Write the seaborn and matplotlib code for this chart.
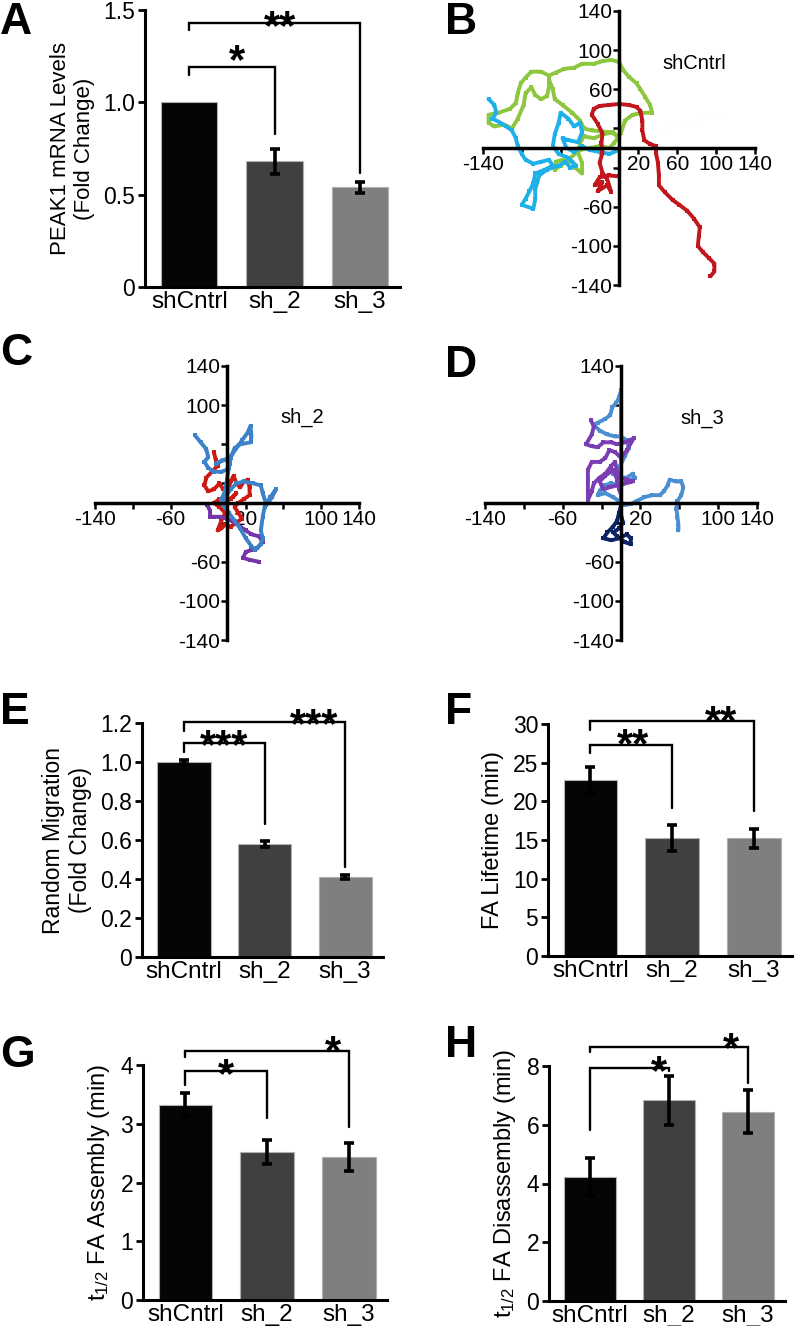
import matplotlib
matplotlib.use("Agg")
import matplotlib.pyplot as plt
import seaborn as sns

sns.set_theme(style="ticks")
plt.rcParams["font.family"] = ["Liberation Sans", "DejaVu Sans"]
plt.rcParams["mathtext.fontset"] = "custom"
plt.rcParams["mathtext.rm"] = "Liberation Sans"
plt.rcParams["mathtext.it"] = "Liberation Sans:italic"
for key in ["text.color", "axes.labelcolor", "xtick.color", "ytick.color", "axes.edgecolor"]:
    plt.rcParams[key] = "black"

W, H = 798, 1326

# ---- bar chart data ----
groups = ["shCntrl", "sh_2", "sh_3"]
bar_colors = ["#050505", "#404040", "#7f7f7f"]

mrna = [1.0, 0.68, 0.54]
mrna_err = [0.0, 0.07, 0.03]

migration = [1.0, 0.58, 0.41]
migration_err = [0.012, 0.015, 0.01]

lifetime = [22.7, 15.3, 15.2]
lifetime_err = [1.8, 1.7, 1.2]

assembly = [3.32, 2.52, 2.44]
assembly_err = [0.2, 0.21, 0.24]

disassembly = [4.22, 6.83, 6.45]
disassembly_err = [0.65, 0.83, 0.73]

# ---- trajectory data (microns, start at origin) ----
b_red_x = [0, -10, -20, -25, -17, -22, -12, -8, -12, -17, -20, -17, -18, -17, -22, -28, -26, -20, -10, 0, 10, 18, 22,
           24, 24, 26, 32, 38, 38, 40, 41, 41, 47, 55, 62, 70, 77, 83, 82, 81, 86, 92, 98, 98, 94]
b_red_y = [-29, -28, -30, -38, -35, -44, -38, -45, -32, -25, -15, -5, 5, 15, 25, 34, 40, 43, 44, 45, 44, 42, 38,
           28, 18, 8, 4, 2, -5, -15, -28, -38, -45, -53, -58, -64, -72, -81, -90, -100, -106, -112, -118, -126, -131]
b_green_x = [0, -6, -16, -26, -36, -40, -42, -38, -38, -45, -48, -58, -65, -66, -60, -50, -40, -30, -20, -10, -5, 2,
             6, 14, 25, 34, 32, 27, 22, 18, 10, 4, 0, -8, -16, -26, -38, -46, -56, -65, -72, -80, -90, -96, -101,
             -104, -106, -112, -124, -134, -134, -128, -118, -110, -104, -98, -96, -90, -86, -80, -74, -72, -72,
             -68, -66, -58, -48, -40, -36, -28, -18, -8, 0]
b_green_y = [10, 16, 14, 10, 12, 5, -5, -15, -26, -20, -14, -12, -14, -22, -18, -10, -2, 0, 2, 0, 5, 15,
             28, 34, 36, 36, 44, 52, 60, 66, 73, 80, 88, 90, 89, 86, 86, 82, 81, 77, 74, 78, 78, 72, 66,
             56, 46, 40, 36, 34, 26, 22, 24, 20, 30, 44, 56, 62, 54, 50, 53, 62, 70,
             60, 50, 44, 36, 28, 20, 18, 17, 16, 12]
b_cyan_x = [-134, -128, -126, -130, -122, -116, -110, -106, -104, -100, -96, -88, -80, -72, -68, -76, -86, -88, -92,
            -96, -100, -88, -86, -86, -82, -74, -62, -55, -50, -44, -52, -62, -68, -66, -62, -60, -52, -46, -40,
            -38, -42, -52, -58, -54, -46, -38, -30, -20, -10, 0]
b_cyan_y = [50, 44, 36, 30, 26, 22, 18, 10, 2, -6, -12, -16, -14, -12, -18, -22, -26, -36, -44,
            -52, -58, -62, -52, -42, -28, -22, -18, -14, -20, -18, -10, -6, 2, 14, 26, 36, 30, 22, 26,
            16, 6, 8, 10, 0, -4, 2, -2, -4, -6, -2]

c_blue_x = [-34, -28, -22, -20, -24, -20, -14, -6, 0, 3, 0, -8, -12, -4, 2, 10, 16, 22, 25, 26, 25, 14, 8, 4, 2,
            0, -2, -6, -4, 2, 8, 14, 20, 26, 30, 36, 38, 36, 38, 40, 46, 52, 48, 42, 38, 36, 28, 18, 10, 4, -2, -6]
c_blue_y = [69, 62, 55, 47, 42, 36, 32, 32, 34, 40, 45, 42, 40, 44, 45, 56, 64, 72, 79, 68, 62, 60, 56, 46, 36,
            24, 12, 4, -2, -10, -18, -26, -36, -44, -48, -42, -36, -28, -14, -4, 6, 14, 6, -2, 10, 18, 20, 22, 20,
            14, 6, 0]
c_red_x = [-14, -12, -10, -16, -22, -24, -20, -14, -8, -4, 0, 4, 7, 10, 14, 18, 22, 24, 24, 18, 12, 8, 12, 16,
           10, 4, -2, -6, -10, -6, -2, -8, -14, -8, 0, 6, 10, 4]
c_red_y = [52, 44, 38, 32, 26, 18, 12, 14, 20, 14, 10, 22, 28, 20, 16, 22, 24, 16, 8, 4, 0, -4, -10, -16,
           -20, -24, -22, -26, -28, -18, -10, -4, 0, 4, 2, 6, 10, 4]
c_purple_x = [-21, -18, -18, -14, -8, 0, 8, 14, 20, 26, 34, 38, 32, 26, 20, 17, 24, 34]
c_purple_y = [-2, -8, -14, -14, -14, -16, -20, -24, -28, -32, -34, -40, -46, -48, -50, -56, -58, -60]

d_blue_x = [0, 0, 0, -2, -5, -9, -11, -16, -24, -28, -22, -14, -6, 0, 6, 8, 4, 0, -4, -8, -2, 6, 12, 14, 8, 0,
            -10, -18, -22, -24, -16, -8, -2, 4, 10, 16, 24, 32, 40, 44, 48, 50, 56, 62, 64, 62, 58, 57, 58, 59, 59]
d_blue_y = [0, 50, 115, 108, 102, 98, 90, 86, 82, 80, 74, 70, 68, 68, 64, 56, 48, 40, 34, 30, 26, 26, 30, 26, 22,
            18, 20, 18, 12, 8, 10, 6, 2, -2, -1, 2, 6, 8, 8, 12, 18, 24, 22, 22, 16, 8, 2, -6, -14, -22, -28]
d_purple_x = [-31, -28, -30, -36, -30, -24, -18, -10, -4, 4, 13, 6, 0, -6, -12, -16, -22, -30, -34, -34, -34, -34,
              -30, -28, -22, -16, -10, -6, -4, -2, 6, 12, 4, -4, -12, -18, -22, -16, -8, -4, -2, 0, 0]
d_purple_y = [85, 78, 70, 60, 58, 57, 62, 62, 60, 62, 66, 54, 46, 52, 54, 46, 42, 42, 34, 24, 12, 3,
              12, 20, 26, 30, 38, 42, 32, 26, 24, 22, 20, 18, 16, 14, 22, 28, 34, 24, 14, 8, 2]
d_navy_x = [0, -2, -4, -8, -14, -18, -10, -2, 6, 10, 10, 4, -4, -8, -2, 2, 0, 0]
d_navy_y = [-2, -10, -18, -24, -30, -36, -38, -36, -32, -36, -42, -40, -34, -30, -26, -20, -12, -4]

traj_ticks = [-140, -100, -60, -20, 20, 60, 100, 140]

fig = plt.figure(figsize=(W / 100, H / 100), dpi=100)


def add_px_axes(left, top, right, bottom):
    return fig.add_axes([left / W, 1 - bottom / H, (right - left) / W, (bottom - top) / H])


def panel_letter(x, y, s):
    fig.text(x / W, 1 - y / H, s, fontsize=32, fontweight="bold", ha="left", va="top")


def bar_panel(box, vals, errs, ymax, yticks, yticklabels, ylabel, ylabel_size=17):
    ax = add_px_axes(*box)
    sns.barplot(x=groups, y=vals, hue=groups, palette=bar_colors, legend=False, width=0.66,
                edgecolor="#b0b0b0", linewidth=0.8, ax=ax)
    idx = [i for i, e in enumerate(errs) if e > 0]
    ax.errorbar(idx, [vals[i] for i in idx], yerr=[errs[i] for i in idx], fmt="none",
                ecolor="black", elinewidth=2.6, capsize=3.5, capthick=2.6)
    ax.set_xlim(-0.52, 2.47)
    ax.set_ylim(0, ymax)
    ax.set_yticks(yticks)
    ax.set_yticklabels(yticklabels)
    sns.despine(ax=ax)
    for side in ["left", "bottom"]:
        ax.spines[side].set_linewidth(2.2)
    ax.tick_params(axis="y", direction="out", length=5, width=2, labelsize=16.5, pad=2)
    ax.tick_params(axis="x", length=0, labelsize=17.5, pad=3)
    ax.set_ylabel(ylabel, fontsize=ylabel_size, labelpad=6)
    ax.set_xlabel("")
    return ax


def bracket(ax, x2, y, yl, yr, star, sx, gap=1.5):
    ax.plot([0, 0, x2, x2], [yl, y, y, yr], color="black", lw=1.7, clip_on=False,
            solid_joinstyle="miter")
    ax.annotate(star, xy=(sx, y), xytext=(0, gap - 12.5), textcoords="offset points",
                ha="center", va="baseline", fontsize=30, fontweight="bold", annotation_clip=False)


def traj_panel(box, xlim, ylim, tracks, xlabels, ylabels, name, name_xy):
    ax = add_px_axes(*box)
    for xs, ys, col in tracks:
        sns.lineplot(x=xs, y=ys, sort=False, estimator=None, color=col, lw=2.8,
                     marker="s", markersize=3, markeredgewidth=0, ax=ax)
    ax.set_xlim(*xlim)
    ax.set_ylim(*ylim)
    ax.spines["left"].set_position(("data", 0))
    ax.spines["bottom"].set_position(("data", 0))
    ax.spines["right"].set_visible(False)
    ax.spines["top"].set_visible(False)
    for side in ["left", "bottom"]:
        ax.spines[side].set_linewidth(2.5)
        ax.spines[side].set_bounds(-140, 140)
    ax.set_xticks(traj_ticks)
    ax.set_yticks(traj_ticks)
    ax.set_xticklabels(xlabels)
    ax.set_yticklabels(ylabels)
    ax.tick_params(direction="out", length=4, width=1.8, labelsize=15, pad=1)
    ax.patch.set_visible(False)
    ax.text(name_xy[0], name_xy[1], name, fontsize=14.5, ha="left", va="center")
    return ax


# A
axA = bar_panel((145, 10, 400, 287), mrna, mrna_err, 1.5, [0, 0.5, 1.0, 1.5], ["0", "0.5", "1.0", "1.5"],
                "PEAK1 mRNA Levels\n(Fold Change)", 16)
bracket(axA, 1, 1.19, 1.15, 0.83, "*", 0.56, gap=8)
bracket(axA, 2, 1.43, 1.39, 0.62, "**", 1.06, gap=1)
panel_letter(0, 2, "A")

# B
traj_panel((473, 9, 765, 290), (-150, 150), (-145, 142),
           [(b_green_x, b_green_y, "#8dc63f"), (b_cyan_x, b_cyan_y, "#1eb1e9"), (b_red_x, b_red_y, "#c3161c")],
           ["-140", "", "", "", "20", "60", "100", "140"],
           ["-140", "-100", "-60", "", "", "60", "100", "140"], "shCntrl", (45, 86))
panel_letter(445, 2, "B")

# C
traj_panel((86, 364, 368, 645), (-150, 150), (-145, 142),
           [(c_red_x, c_red_y, "#cc1a14"), (c_purple_x, c_purple_y, "#7435a8"), (c_blue_x, c_blue_y, "#3b82c8")],
           ["-140", "", "-60", "", "20", "", "100", "140"],
           ["-140", "-100", "-60", "", "", "", "100", "140"], "sh_2", (57, 87))
panel_letter(0, 333, "C")

# D
traj_panel((475, 364, 767, 645), (-150, 150), (-145, 142),
           [(d_blue_x, d_blue_y, "#4b8fd2"), (d_purple_x, d_purple_y, "#7a3db3"), (d_navy_x, d_navy_y, "#0b2263")],
           ["-140", "", "-60", "", "20", "", "100", "140"],
           ["-140", "-100", "-60", "", "", "", "", "140"], "sh_3", (61, 86))
panel_letter(445, 345, "D")

# E
axE = bar_panel((142, 723, 383, 957), migration, migration_err, 1.2, [0, 0.2, 0.4, 0.6, 0.8, 1.0, 1.2],
                ["0", "0.2", "0.4", "0.6", "0.8", "1.0", "1.2"], "Random Migration\n(Fold Change)", 16.5)
bracket(axE, 1, 1.097, 1.05, 0.68, "***", 0.5)
bracket(axE, 2, 1.205, 1.16, 0.46, "***", 1.62)
panel_letter(0, 692, "E")

# F
axF = bar_panel((548, 724, 792, 956), lifetime, lifetime_err, 30, [0, 5, 10, 15, 20, 25, 30],
                ["0", "5", "10", "15", "20", "25", "30"], "FA Lifetime (min)")
bracket(axF, 1, 27.3, 26.2, 19.1, "**", 0.52, gap=4)
bracket(axF, 2, 30.4, 29.2, 18.7, "**", 1.6, gap=3)
panel_letter(445, 692, "F")

# G
axG = bar_panel((143, 1065, 387, 1300), assembly, assembly_err, 4, [0, 1, 2, 3, 4],
                ["0", "1", "2", "3", "4"], "t$_{1/2}$ FA Assembly (min)")
bracket(axG, 1, 3.89, 3.66, 3.09, "*", 0.5)
bracket(axG, 2, 4.24, 4.14, 2.95, "*", 1.81, gap=3)
panel_letter(0, 1035, "G")

# H
axH = bar_panel((549, 1066, 785, 1301), disassembly, disassembly_err, 8, [0, 2, 4, 6, 8],
                ["0", "2", "4", "6", "8"], "t$_{1/2}$ FA Disassembly (min)")
bracket(axH, 1, 7.92, 5.82, 7.84, "*", 0.87)
bracket(axH, 2, 8.66, 8.49, 7.41, "*", 1.79, gap=2)
panel_letter(445, 1025, "H")

fig.savefig("out.png", dpi=100, facecolor="white")
